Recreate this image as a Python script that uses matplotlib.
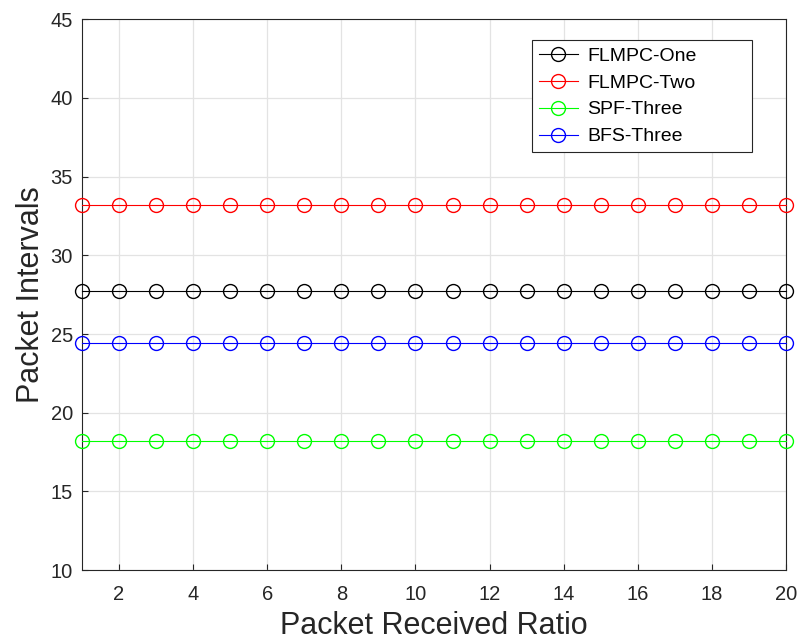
import matplotlib
matplotlib.use("Agg")
import matplotlib.pyplot as plt
import numpy as np

plt.rcParams['font.family'] = ['Liberation Sans', 'DejaVu Sans']

x = list(range(1, 21))
flmpc_one = [27.75] * 20
flmpc_two = [33.2] * 20
spf_three = [18.2] * 20
bfs_three = [24.45] * 20

series = [
    ("FLMPC-One", flmpc_one, "black"),
    ("FLMPC-Two", flmpc_two, "red"),
    ("SPF-Three", spf_three, "#00ff00"),
    ("BFS-Three", bfs_three, "blue"),
]

fig = plt.figure(figsize=(8.0, 6.42), dpi=100)
ax = fig.add_axes([0.1025, 0.112, 0.880, 0.858])

for name, vals, c in series:
    ax.plot(x, vals, color=c, marker='o', markersize=10, markerfacecolor='none',
            markeredgewidth=1.0, linewidth=0.8, label=name, clip_on=False, zorder=3)

ax.set_xlim(1, 20)
ax.set_ylim(10, 45)
ax.set_xticks(range(2, 21, 2))
ax.set_yticks(range(10, 46, 5))
ax.grid(True, color='#e3e3e3', linewidth=0.9)
ax.set_axisbelow(True)
ax.tick_params(direction='in', length=4, labelsize=14.5, colors='#262626', width=0.8)
ax.tick_params(axis='x', pad=11)
ax.tick_params(axis='y', pad=6.5)
for s in ax.spines.values():
    s.set_color('#262626')
    s.set_linewidth(0.8)

ax.set_xlabel("Packet Received Ratio", fontsize=22, color='#262626', labelpad=5)
ax.set_ylabel("Packet Intervals", fontsize=22, color='#262626', labelpad=3)

leg = ax.legend(loc='upper left', bbox_to_anchor=(0.639, 0.0, 0.313, 0.962),
                mode='expand', fontsize=14,
                fancybox=False, framealpha=1, edgecolor='#262626',
                handlelength=2.0, handletextpad=0.5, borderpad=0.35, labelspacing=0.48,
                borderaxespad=0.0)
leg.get_frame().set_linewidth(0.8)

fig.savefig("out.png", dpi=100)
